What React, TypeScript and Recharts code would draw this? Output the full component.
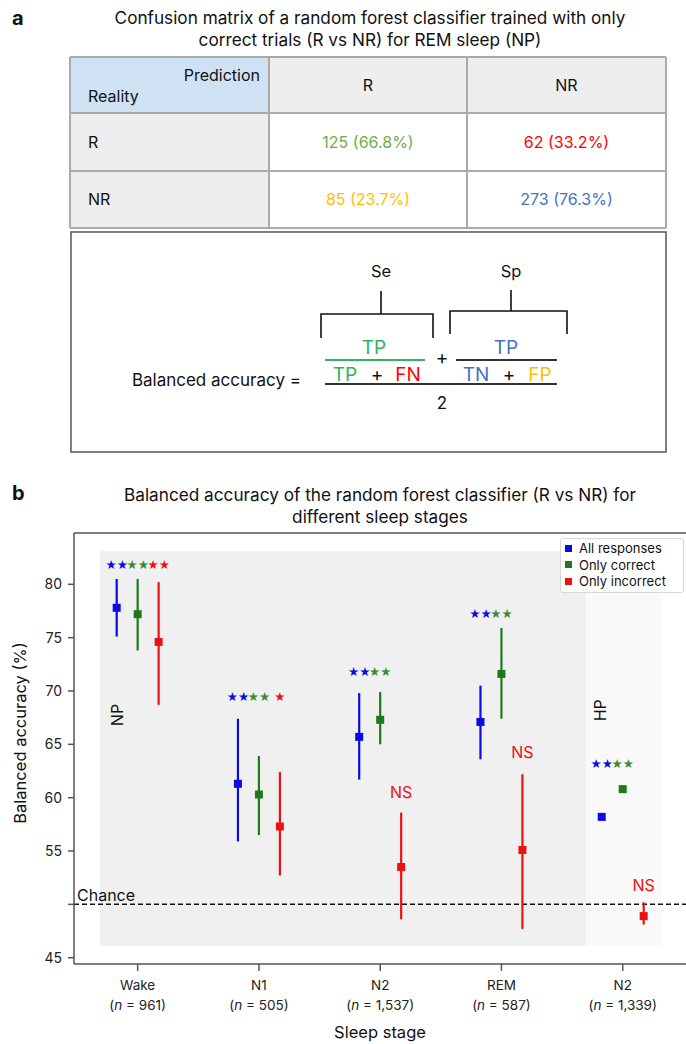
import React from "react";
import {
  ComposedChart,
  Scatter,
  ErrorBar,
  XAxis,
  YAxis,
  ReferenceLine,
  ReferenceArea,
} from "recharts";

// sleep stages (the last one is HP)
const stages = ["Wake", "N1", "N2", "REM", "N2"];
const stageN = ["961", "505", "1,537", "587", "1,339"];

// balanced accuracy (%), mean and CI bounds per stage
const allMean = [77.8, 61.3, 65.7, 67.1, 58.2];
const allLow = [75.1, 55.9, 61.7, 63.6, 57.9];
const allHigh = [80.5, 67.4, 69.8, 70.5, 58.4];

const correctMean = [77.2, 60.3, 67.3, 71.6, 60.8];
const correctLow = [73.8, 56.5, 65.0, 67.4, 60.6];
const correctHigh = [80.5, 63.9, 69.9, 75.9, 61.0];

const incorrectMean = [74.6, 57.3, 53.5, 55.1, 48.9];
const incorrectLow = [68.7, 52.7, 48.6, 47.7, 48.1];
const incorrectHigh = [80.2, 62.4, 58.6, 62.2, 50.2];

// significance marks
const sigAll = ["**", "**", "**", "**", "**"];
const sigCorrect = ["**", "**", "**", "**", "**"];
const sigIncorrect = ["**", "*", "NS", "NS", "NS"];
const sigY = [81.9, 69.5, 71.85, 77.3, 63.2];
const sigIncorrectY = [81.9, 69.5, 60.5, 64.3, 51.8];

// confusion matrix
const cmRows = ["R", "NR"];
const cmCols = ["R", "NR"];
const cmCounts = [
  [125, 62],
  [85, 273],
];
const cmPct = [
  ["66.8", "33.2"],
  ["23.7", "76.3"],
];

const BLUE = "#0a0ae6";
const GREEN = "#1c7a1c";
const RED = "#ee1111";
const OFFSET = 0.173;
const FONT = "Inter, Roboto, sans-serif";

const toPoints = (mean: number[], low: number[], high: number[], shift: number) =>
  mean.map((m, i) => ({
    x: i + shift,
    y: m,
    err: [m - low[i], high[i] - m],
  }));

const allData = toPoints(allMean, allLow, allHigh, -OFFSET);
const correctData = toPoints(correctMean, correctLow, correctHigh, 0);
const incorrectData = toPoints(incorrectMean, incorrectLow, incorrectHigh, OFFSET);

const marks = [
  ...sigAll.map((t, i) => ({ x: i - OFFSET, y: sigY[i], text: t, color: BLUE })),
  ...sigCorrect.map((t, i) => ({ x: i, y: sigY[i], text: t, color: "#3f8a2f" })),
  ...sigIncorrect.map((t, i) => ({ x: i + OFFSET, y: sigIncorrectY[i], text: t, color: RED })),
];

const panelLabels = [
  { x: -0.17, y: 67.75, text: "NP" },
  { x: 3.81, y: 68.2, text: "HP" },
];

const Square = (props: any) => {
  const { cx, cy, fill } = props;
  if (cx == null || cy == null) return null;
  return <rect x={cx - 4} y={cy - 4} width={8} height={8} fill={fill} />;
};

const MarkShape = (props: any) => {
  const { cx, cy, payload } = props;
  if (payload.text === "NS") {
    return (
      <text x={cx} y={cy} textAnchor="middle" dominantBaseline="central" fill={payload.color} fontSize={16} fontFamily={FONT}>
        NS
      </text>
    );
  }
  const stars = payload.text.replace(/\*/g, "\u2605");
  return (
    <text x={cx} y={cy} textAnchor="middle" dominantBaseline="central" fill={payload.color} fontSize={12.5} fontFamily="'DejaVu Sans'">
      {stars}
    </text>
  );
};

const PanelLabel = (props: any) => {
  const { cx, cy, payload } = props;
  return (
    <text x={cx} y={cy} textAnchor="middle" dominantBaseline="central" fontSize={16} fontFamily={FONT} fill="#111" transform={`rotate(-90 ${cx} ${cy})`}>
      {payload.text}
    </text>
  );
};

const StageTick = (props: any) => {
  const { x, y, payload } = props;
  const i = payload.value;
  return (
    <g fontFamily={FONT} fontSize={13.5} fill="#222">
      <text x={x} y={y + 16} textAnchor="middle" fill="#222">
        {stages[i]}
      </text>
      <text x={x} y={y + 36} textAnchor="middle" fill="#222">
        (<tspan fontStyle="italic">n</tspan> = {stageN[i]})
      </text>
    </g>
  );
};

const legendItems = [
  ["All responses", BLUE],
  ["Only correct", GREEN],
  ["Only incorrect", RED],
];

const LegendBox = () => (
  <div
    style={{
      position: "absolute",
      left: 560,
      top: 538,
      width: 114,
      background: "#fff",
      border: "1px solid #d8d8d8",
      borderRadius: 3,
      padding: "1px 4px 2px 4px",
      fontFamily: FONT,
      fontSize: 13,
      lineHeight: "16.5px",
      color: "#111",
    }}
  >
    {legendItems.map(([label, c]) => (
      <div key={label} style={{ display: "flex", alignItems: "center", whiteSpace: "nowrap" }}>
        <span style={{ width: 7, height: 7, background: c, marginRight: 7, display: "inline-block" }} />
        {label}
      </div>
    ))}
  </div>
);

function ConfusionPanel() {
  const colX = [70, 269, 467, 666];
  const rowY = [57, 113, 171, 228];
  const valColors = [
    ["#70ad47", "#ff0000"],
    ["#ffc000", "#4472c4"],
  ];
  return (
    <svg width={686} height={470} style={{ position: "absolute", left: 0, top: 0 }} fontFamily={FONT}>
      <text x={12} y={25} fontSize={20} fontWeight="bold" fill="#111">a</text>
      <text x={370} y={24} textAnchor="middle" fontSize={17.2} fill="#111">
        Confusion matrix of a random forest classifier trained with only
      </text>
      <text x={370} y={46} textAnchor="middle" fontSize={17.2} fill="#111">
        correct trials (R vs NR) for REM sleep (NP)
      </text>

      {/* table */}
      <rect x={colX[0]} y={rowY[0]} width={colX[1] - colX[0]} height={rowY[1] - rowY[0]} fill="#cfe2f3" />
      <rect x={colX[1]} y={rowY[0]} width={colX[3] - colX[1]} height={rowY[1] - rowY[0]} fill="#eeeeee" />
      <rect x={colX[0]} y={rowY[1]} width={colX[1] - colX[0]} height={rowY[3] - rowY[1]} fill="#eeeeee" />
      {rowY.map((y) => (
        <line key={"h" + y} x1={colX[0]} x2={colX[3]} y1={y} y2={y} stroke="#aaaaaa" strokeWidth={2} />
      ))}
      {colX.map((x) => (
        <line key={"v" + x} x1={x} x2={x} y1={rowY[0]} y2={rowY[3]} stroke="#aaaaaa" strokeWidth={2} />
      ))}
      <text x={260} y={81} textAnchor="end" fontSize={16} fill="#111">Prediction</text>
      <text x={88} y={102} fontSize={16} fill="#111">Reality</text>
      {cmCols.map((c, j) => (
        <text key={c} x={(colX[j + 1] + colX[j + 2]) / 2} y={91} textAnchor="middle" fontSize={16} fill="#111">
          {c}
        </text>
      ))}
      {cmRows.map((r, i) => (
        <g key={r}>
          <text x={88} y={(rowY[i + 1] + rowY[i + 2]) / 2 + 5.5} fontSize={16} fill="#111">
            {r}
          </text>
          {cmCounts[i].map((v, j) => (
            <text
              key={j}
              x={(colX[j + 1] + colX[j + 2]) / 2}
              y={(rowY[i + 1] + rowY[i + 2]) / 2 + 5.5}
              textAnchor="middle"
              fontSize={16}
              fill={valColors[i][j]}
            >
              {v} ({cmPct[i][j]}%)
            </text>
          ))}
        </g>
      ))}

      {/* balanced accuracy formula */}
      <rect x={71} y={232} width={595} height={220} fill="none" stroke="#555" strokeWidth={1.5} />
      <g fontSize={16.5} fill="#111" textAnchor="middle" dominantBaseline="central">
        <text x={381} y={271}>Se</text>
        <text x={511} y={271}>Sp</text>
      </g>
      <path d="M381,291 V314 M321,338 V314 H433 V338" fill="none" stroke="#111" strokeWidth={1.6} />
      <path d="M511,290 V311 M450,334 V311 H567 V334" fill="none" stroke="#111" strokeWidth={1.6} />
      <g fontSize={19} textAnchor="middle" dominantBaseline="central">
        <text x={374} y={347} fill="#2fb35f">TP</text>
        <text x={506} y={347} fill="#4472c4">TP</text>
        <text x={442} y={357} fill="#111">+</text>
        <text x={345} y={374} fill="#2fb35f">TP</text>
        <text x={377} y={374} fill="#111">+</text>
        <text x={408} y={374} fill="#ff0000">FN</text>
        <text x={476} y={374} fill="#4472c4">TN</text>
        <text x={509} y={374} fill="#111">+</text>
        <text x={540} y={374} fill="#ffc000">FP</text>
        <text x={442} y={403} fill="#111" fontSize={17}>2</text>
      </g>
      <line x1={325} x2={425} y1={360} y2={360} stroke="#2fb35f" strokeWidth={2} />
      <line x1={456} x2={557} y1={360} y2={360} stroke="#333" strokeWidth={2} />
      <line x1={325} x2={557} y1={384} y2={384} stroke="#333" strokeWidth={2} />
      <text x={301} y={380} textAnchor="end" dominantBaseline="central" fontSize={17} fill="#111">
        Balanced accuracy =
      </text>
    </svg>
  );
}

export default function App() {
  return (
    <div style={{ position: "absolute", left: 0, top: 0, width: 686, height: 1044, background: "#fff", fontFamily: FONT, overflow: "hidden" }}>
      <ConfusionPanel />
      <svg width={686} height={50} style={{ position: "absolute", left: 0, top: 478 }} fontFamily={FONT}>
        <text x={12} y={22} fontSize={20} fontWeight="bold" fill="#111">b</text>
        <text x={380} y={23} textAnchor="middle" fontSize={17.2} fill="#111">
          Balanced accuracy of the random forest classifier (R vs NR) for
        </text>
        <text x={380} y={45} textAnchor="middle" fontSize={17.2} fill="#111">
          different sleep stages
        </text>
      </svg>
      <div style={{ position: "absolute", left: 0, top: 480 }}>
        <ComposedChart width={686} height={564} margin={{ top: 53, right: 0, bottom: 0, left: 0 }}>
          <ReferenceArea x1={-0.311} x2={3.7} y1={46.1} y2={83.12} fill="#f0f0f0" fillOpacity={1} stroke="none" />
          <ReferenceArea x1={3.7} x2={4.316} y1={46.1} y2={83.12} fill="#f9f9f9" fillOpacity={1} stroke="none" />
          <XAxis
            dataKey="x"
            type="number"
            domain={[-0.525, 4.522]}
            ticks={[0, 1, 2, 3, 4]}
            allowDataOverflow
            height={80}
            tickSize={7}
            tickMargin={3}
            tick={<StageTick />}
            stroke="#555"
            strokeWidth={1.5}
            label={{ value: "Sleep stage", position: "insideBottom", offset: 6, fontSize: 16.5, fill: "#111", fontFamily: FONT }}
          />
          <YAxis
            dataKey="y"
            type="number"
            width={74}
            domain={[44.41, 84.81]}
            ticks={[45, 50, 55, 60, 65, 70, 75, 80]}
            tickFormatter={(v: number) => (v === 50 ? "" : String(v))}
            allowDataOverflow
            tickSize={6}
            tickMargin={6}
            stroke="#555"
            strokeWidth={1.5}
            tick={{ fontSize: 14, fill: "#222", fontFamily: FONT }}
            label={{
              content: () => (
                <text x={20} y={253} transform="rotate(-90 20 253)" textAnchor="middle" dominantBaseline="central" fontSize={16.5} fill="#111" fontFamily={FONT}>
                  Balanced accuracy (%)
                </text>
              ),
            }}
          />
          <ReferenceLine y={84.81} stroke="#555" strokeWidth={1.5} />
          <ReferenceLine
            y={50}
            stroke="#111"
            strokeWidth={1.5}
            strokeDasharray="5 3"
            label={{ value: "Chance", position: "insideBottomLeft", offset: 3, fontSize: 16, fill: "#111", fontFamily: FONT }}
          />
          <Scatter data={allData} fill={BLUE} shape={<Square />} isAnimationActive={false}>
            <ErrorBar dataKey="err" direction="y" width={0} stroke={BLUE} strokeWidth={2.2} isAnimationActive={false} />
          </Scatter>
          <Scatter data={correctData} fill={GREEN} shape={<Square />} isAnimationActive={false}>
            <ErrorBar dataKey="err" direction="y" width={0} stroke={GREEN} strokeWidth={2.2} isAnimationActive={false} />
          </Scatter>
          <Scatter data={incorrectData} fill={RED} shape={<Square />} isAnimationActive={false}>
            <ErrorBar dataKey="err" direction="y" width={0} stroke={RED} strokeWidth={2.2} isAnimationActive={false} />
          </Scatter>
          <Scatter data={marks} shape={<MarkShape />} isAnimationActive={false} legendType="none" />
          <Scatter data={panelLabels} shape={<PanelLabel />} isAnimationActive={false} legendType="none" />
        </ComposedChart>
      </div>
      <LegendBox />
    </div>
  );
}
